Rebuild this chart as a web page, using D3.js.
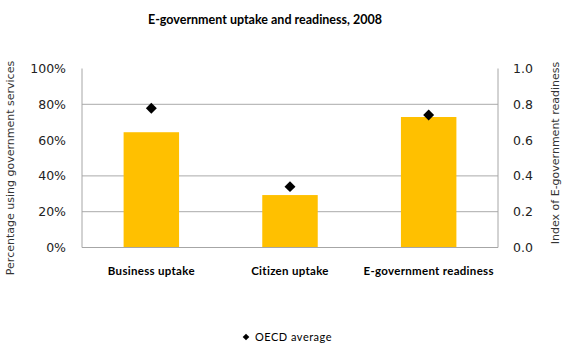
<!DOCTYPE html>
<html>
<head>
<meta charset="utf-8">
<script src="https://cdn.jsdelivr.net/npm/d3@7"></script>
<style>
  body { margin: 0; background: #fff; }
</style>
</head>
<body>
<div id="chart"></div>
<script>
// Chart data (shares on the left axis, index on the right axis, both 0..1)
const categories = ["Business uptake", "Citizen uptake", "E-government readiness"];
const countryValues = [0.644, 0.293, 0.729];
const oecdAverage = [0.778, 0.34, 0.74];
const leftTicks = [0, 0.2, 0.4, 0.6, 0.8, 1.0];
const rightTicks = [0, 0.2, 0.4, 0.6, 0.8, 1.0];
const gridTicks = [0.2, 0.4, 0.8]; // the source only draws these

const width = 567, height = 351;
const margin = { top: 68.5, right: 69, bottom: 103.5, left: 82 };

const svg = d3.select("#chart").append("svg")
    .attr("width", width)
    .attr("height", height);

const x = d3.scaleBand()
    .domain(categories)
    .range([margin.left, width - margin.right])
    .paddingInner(0.6)
    .paddingOuter(0.3);

const y = d3.scaleLinear()
    .domain([0, 1])
    .range([height - margin.bottom, margin.top]);

// Title
svg.append("text")
    .attr("x", 265)
    .attr("y", 24)
    .attr("text-anchor", "middle")
    .attr("font-family", "Lato, sans-serif")
    .attr("font-weight", "bold")
    .attr("font-size", "12.5px")
    .attr("fill", "#000")
    .text("E-government uptake and readiness, 2008");

// Gridlines
svg.append("g")
    .selectAll("line")
    .data(gridTicks)
    .join("line")
    .attr("x1", margin.left)
    .attr("x2", width - margin.right)
    .attr("y1", d => y(d))
    .attr("y2", d => y(d))
    .attr("stroke", "#aaa")
    .attr("stroke-width", 1);

// Bars
svg.append("g")
    .selectAll("rect")
    .data(categories)
    .join("rect")
    .attr("x", d => x(d))
    .attr("width", x.bandwidth())
    .attr("y", (d, i) => y(countryValues[i]))
    .attr("height", (d, i) => y(0) - y(countryValues[i]))
    .attr("fill", "#FFC000");

// Axes lines
const axisColor = "#a6a6a6";
svg.append("line")
    .attr("x1", margin.left).attr("x2", margin.left)
    .attr("y1", y(1)).attr("y2", y(0))
    .attr("stroke", axisColor);
svg.append("line")
    .attr("x1", width - margin.right).attr("x2", width - margin.right)
    .attr("y1", y(1)).attr("y2", y(0))
    .attr("stroke", axisColor);
svg.append("line")
    .attr("x1", margin.left).attr("x2", width - margin.right)
    .attr("y1", y(0)).attr("y2", y(0))
    .attr("stroke", axisColor);

// Left tick labels
svg.append("g")
    .selectAll("text")
    .data(leftTicks)
    .join("text")
    .attr("x", 66)
    .attr("y", d => y(d))
    .attr("dy", "0.36em")
    .attr("text-anchor", "end")
    .attr("font-family", "DejaVu Sans, sans-serif")
    .attr("font-size", "12.5px")
    .attr("fill", "#222")
    .text(d3.format(".0%"));

// Right tick labels
svg.append("g")
    .selectAll("text")
    .data(rightTicks)
    .join("text")
    .attr("x", 513)
    .attr("y", d => y(d))
    .attr("dy", "0.36em")
    .attr("text-anchor", "start")
    .attr("font-family", "DejaVu Sans, sans-serif")
    .attr("font-size", "12.5px")
    .attr("fill", "#222")
    .text(d3.format(".1f"));

// Axis titles
svg.append("text")
    .attr("transform", "translate(14,168) rotate(-90)")
    .attr("text-anchor", "middle")
    .attr("font-family", "DejaVu Sans, sans-serif")
    .attr("font-size", "11px")
    .attr("fill", "#333")
    .text("Percentage using government services");

svg.append("text")
    .attr("transform", "translate(559,153) rotate(-90)")
    .attr("text-anchor", "middle")
    .attr("font-family", "DejaVu Sans, sans-serif")
    .attr("font-size", "11px")
    .attr("fill", "#333")
    .text("Index of E-government readiness");

// Category labels
svg.append("g")
    .selectAll("text")
    .data(categories)
    .join("text")
    .attr("x", d => x(d) + x.bandwidth() / 2)
    .attr("y", 275)
    .attr("text-anchor", "middle")
    .attr("font-family", "Lato, sans-serif")
    .attr("font-weight", "bold")
    .attr("font-size", "11.5px")
    .attr("letter-spacing", "0.3px")
    .attr("fill", "#000")
    .text(d => d);

// OECD average markers
const diamond = d3.symbol().type(d3.symbolSquare).size(60);
svg.append("g")
    .selectAll("path")
    .data(categories)
    .join("path")
    .attr("d", diamond)
    .attr("transform", (d, i) => `translate(${x(d) + x.bandwidth() / 2},${y(oecdAverage[i])}) rotate(45)`)
    .attr("fill", "#000");

// Legend
const legend = svg.append("g").attr("transform", "translate(246,337)");
legend.append("path")
    .attr("d", d3.symbol().type(d3.symbolSquare).size(22))
    .attr("transform", "rotate(45)")
    .attr("fill", "#000");
legend.append("text")
    .attr("x", 9)
    .attr("dy", "0.36em")
    .attr("font-family", "Lato, sans-serif")
    .attr("font-size", "11px")
    .attr("letter-spacing", "0.5px")
    .attr("fill", "#000")
    .text("OECD average");
</script>
</body>
</html>
